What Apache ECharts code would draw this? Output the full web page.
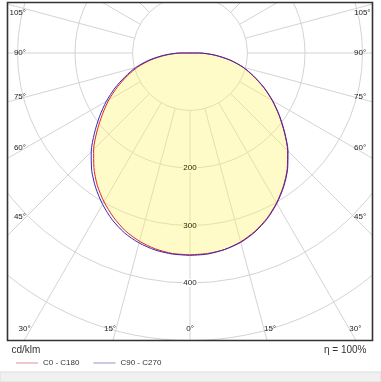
<!DOCTYPE html>
<html><head><meta charset="utf-8">
<script src="https://cdn.jsdelivr.net/npm/echarts@6/dist/echarts.min.js"></script>
<style>html,body{margin:0;padding:0;background:#fff}#c{width:381px;height:382px}</style>
</head><body><div id="c"></div>
<script>
// gamma angles (deg from nadir)
const gammaAngles = [0,5,10,15,20,25,30,35,40,45,50,55,60,65,70,75,80,85,90,95,100,105,110,115,120,125,130,135,140,145,150,155,160,165,170,175,180];
// luminous intensity, cd/klm
const c0   = [351,350,347,340,330,317,301,283,263,240,214,189,165,141,117,95,70,43,16,0,0,0,0,0,0,0,0,0,0,0,0,0,0,0,0,0,0];
const c180 = [351,350,346,339,329,315,299,281,260,237,211,186,163,139,116,94,69,42,15,0,0,0,0,0,0,0,0,0,0,0,0,0,0,0,0,0,0];
const c90  = [352,351,347,341,331,318,302,284,264,241,215,190,166,142,118,96,71,44,17,0,0,0,0,0,0,0,0,0,0,0,0,0,0,0,0,0,0];
const c270 = [352,351,348,342,333,320,304,286,266,243,217,192,168,144,120,98,73,46,18,0,0,0,0,0,0,0,0,0,0,0,0,0,0,0,0,0,0];
const radiusTickLabels = [200,300,400];
const angleTickLabels = [0,15,30,45,60,75,90,105];
const seriesNames = ['C0 - C180','C90 - C270'];
const unitLabel = 'cd/klm';
const efficiencyLabel = 'η = 100%';

function loop(right, left){
  const pts = [];
  for (let i = 0; i < gammaAngles.length; i++) pts.push([right[i], gammaAngles[i]]);
  for (let i = gammaAngles.length - 1; i >= 0; i--) pts.push([left[i], 360 - gammaAngles[i]]);
  return pts;
}

const CX = 190, CY = 53, R = 345, RMAX = 600;
const FONT = '"Liberation Sans", Arial, sans-serif';
const chart = echarts.init(document.getElementById('c'), null, {renderer:'canvas'});
const gridColor = '#d4d4d4';
chart.setOption({
  backgroundColor: '#fff',
  animation: false,
  polar: [
    {center:[CX, CY], radius:[R/6, R]},
    {center:[CX, CY], radius:R}
  ],
  angleAxis: [
    {polarIndex:0, type:'value', min:0, max:360, interval:15, startAngle:270, clockwise:false,
     axisLine:{show:false}, axisTick:{show:false}, axisLabel:{show:false},
     splitLine:{show:true, lineStyle:{color:gridColor, width:1}}},
    {polarIndex:1, type:'value', min:0, max:360, interval:15, startAngle:270, clockwise:false,
     axisLine:{show:false}, axisTick:{show:false}, axisLabel:{show:false}, splitLine:{show:false}}
  ],
  radiusAxis: [
    {polarIndex:0, type:'value', min:100, max:RMAX, interval:100,
     axisLine:{show:false}, axisTick:{show:false}, axisLabel:{show:false},
     splitLine:{show:true, lineStyle:{color:gridColor, width:1}}},
    {polarIndex:1, type:'value', min:0, max:RMAX, interval:100,
     axisLine:{show:false}, axisTick:{show:false}, axisLabel:{show:false}, splitLine:{show:false}}
  ],
  legend: {
    left: 11, top: 354, z: 20, icon: 'rect', itemWidth: 22, itemHeight: 1.5, itemGap: 14, itemTextGap: 4,
    textStyle: {fontSize: 8, color: '#333', fontFamily: FONT},
    data: [
      {name: seriesNames[0], itemStyle: {color: '#e8b4b8'}},
      {name: seriesNames[1], itemStyle: {color: '#b8b6dc'}}
    ]
  },
  series: [
    {name: seriesNames[0], type:'line', coordinateSystem:'polar', polarIndex:1, showSymbol:false, smooth:0.25,
     data: loop(c0, c180), lineStyle:{color:'#dd2222', width:1}, itemStyle:{color:'#dd2222'},
     areaStyle:{color:'rgba(255,245,115,0.55)'}},
    {name: seriesNames[1], type:'line', coordinateSystem:'polar', polarIndex:1, showSymbol:false, smooth:0.25,
     data: loop(c90, c270), lineStyle:{color:'#3a28b4', width:1}, itemStyle:{color:'#3a28b4'}}
  ]
});

function toPixel(r, a){
  let p;
  try { p = chart.convertToPixel({seriesIndex:0}, [r, a]); } catch(e) { p = null; }
  if (!p || !isFinite(p[0])) {
    const rad = (270 + a) * Math.PI / 180;
    const d = r / RMAX * R;
    p = [CX + d * Math.cos(rad), CY - d * Math.sin(rad)];
  }
  return p;
}

const elements = [
  {type:'rect', z:10, shape:{x:0,y:0,width:7.5,height:382}, style:{fill:'#fff'}},
  {type:'rect', z:10, shape:{x:372.5,y:0,width:9,height:382}, style:{fill:'#fff'}},
  {type:'rect', z:10, shape:{x:0,y:0,width:381,height:2.5}, style:{fill:'#fff'}},
  {type:'rect', z:10, shape:{x:0,y:340.5,width:381,height:42}, style:{fill:'#fff'}},
  {type:'rect', z:11, shape:{x:0,y:372,width:381,height:10}, style:{fill:'#f0f0f0', stroke:'#dcdcdc', lineWidth:1}},
  {type:'rect', z:12, shape:{x:7.5,y:2.5,width:365,height:338}, style:{fill:null, stroke:'#333', lineWidth:1.6}}
];
const labelBg = ['rgb(255,251,188)','rgb(255,251,188)','#fff'];
radiusTickLabels.forEach((v, i) => {
  const p = toPixel(v, 0);
  elements.push({type:'text', z:13, x:p[0], y:p[1], style:{text:String(v), fontSize:8, fontFamily:FONT, fill:'#222',
    align:'center', verticalAlign:'middle', backgroundColor:labelBg[i], padding:[0,1]}});
});
const insetX = 164, insetBottom = 276, topMin = 13 - CY;
angleTickLabels.forEach(a => {
  const rad = a * Math.PI / 180;
  const s = Math.sin(rad), c = Math.cos(rad);
  let t = 1e9;
  if (s > 1e-6) t = Math.min(t, insetX / s);
  if (c > 1e-6) t = Math.min(t, insetBottom / c);
  const dx = s * t;
  let dy = c * t;
  if (dy < topMin) dy = topMin;
  const sides = a === 0 ? [[0, 'center']] : [[-1, 'right'], [1, 'left']];
  sides.forEach(([sg, al]) => {
    elements.push({type:'text', z:13, x: CX + sg * dx, y: CY + dy,
      style:{text: a + '°', fontSize:8, fontFamily:FONT, fill:'#222', align:al, verticalAlign:'middle'}});
  });
});
elements.push({type:'text', z:13, x:11.5, y:350, style:{text:unitLabel, fontSize:10, fontFamily:FONT, fill:'#333', verticalAlign:'middle'}});
elements.push({type:'text', z:13, x:366.5, y:350.5, style:{text:efficiencyLabel, fontSize:10, fontFamily:FONT, fill:'#333', align:'right', verticalAlign:'middle'}});
chart.setOption({graphic:{elements}});
</script></body></html>
